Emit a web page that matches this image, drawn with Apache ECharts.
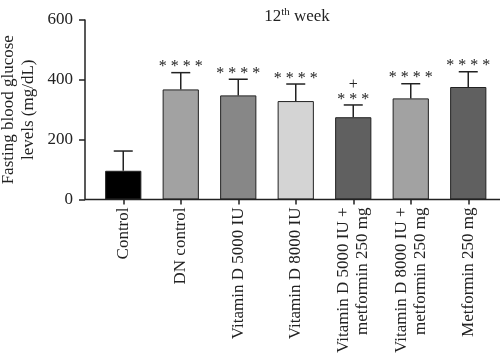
<!DOCTYPE html>
<html><head><meta charset="utf-8">
<script src="https://cdn.jsdelivr.net/npm/echarts@6/dist/echarts.min.js"></script>
<style>html,body{margin:0;padding:0;background:#fff}#c{width:500px;height:357px}</style>
</head><body><div id="c"></div>
<script>
const categories = ["Control","DN control","Vitamin D 5000 IU","Vitamin D 8000 IU","Vitamin D 5000 IU +\nmetformin 250 mg","Vitamin D 8000 IU +\nmetformin 250 mg","Metformin 250 mg"];
const means = [96, 368, 348, 329, 275, 338, 376];
const errorTops = [162, 424, 402, 386, 316, 387, 427];
const annotations = ["", "* * * *", "* * * *", "* * * *", "+\n* * *", "* * * *", "* * * *"];
const barColors = ["#000000","#a2a2a2","#878787","#d4d4d4","#606060","#a2a2a2","#606060"];
const yTicks = { min: 0, max: 600, interval: 200 };
const FONT = "Liberation Serif";

const chart = echarts.init(document.getElementById('c'), null, {renderer:'canvas'});
const option = {
  animation: false,
  textStyle: { fontFamily: FONT },
  title: {
    text: "12{sup|th} week",
    left: 292, top: 2, textAlign: 'center',
    textStyle: { fontFamily: FONT, fontSize: 17, fontWeight: 'normal', color: '#222',
      rich: { sup: { fontFamily: FONT, fontSize: 11, verticalAlign: 'top', padding: [0,0,8,0], color: '#222' } } }
  },
  grid: { left: 94.5, right: 3, top: 20, bottom: 157.5, containLabel: false, outerBoundsMode: 'none' },
  xAxis: {
    type: 'category', data: categories,
    axisLine: { show: false },
    axisTick: { show: true, alignWithLabel: true, length: 5, lineStyle: { color: '#222', width: 1.5 } },
    axisLabel: { rotate: 90, fontFamily: FONT, fontSize: 17, color: '#222', margin: 8, lineHeight: 19, interval: 0 }
  },
  yAxis: {
    type: 'value', min: yTicks.min, max: yTicks.max, interval: yTicks.interval,
    offset: 9.5,
    name: "Fasting blood glucose\nlevels (mg/dL)", nameLocation: 'middle', nameGap: 46, nameRotate: 90,
    nameMoveOverlap: false,
    nameTextStyle: { fontFamily: FONT, fontSize: 17, color: '#222', lineHeight: 20 },
    splitLine: { show: false },
    axisLine: { show: true, lineStyle: { color: '#222', width: 1.5 } },
    axisTick: { show: true, length: 6, lineStyle: { color: '#222', width: 1.5 } },
    axisLabel: { fontFamily: FONT, fontSize: 17, color: '#222', margin: 12 }
  },
  series: [
    {
      type: 'bar', barWidth: '63%',
      data: means.map((v, i) => ({ value: v, itemStyle: { color: barColors[i] } })),
      itemStyle: { borderColor: '#222', borderWidth: 1 }
    },
    {
      type: 'custom',
      data: means.map((m, i) => [i, m, errorTops[i]]),
      renderItem: function (params, api) {
        const i = api.value(0);
        const p0 = api.coord([i, api.value(1)]);
        const p1 = api.coord([i, api.value(2)]);
        const hw = 9.5;
        const txt = annotations[params.dataIndex];
        const children = [
          { type: 'line', shape: { x1: p0[0], y1: p0[1], x2: p1[0], y2: p1[1] }, style: { stroke: '#222', lineWidth: 1.5 } },
          { type: 'line', shape: { x1: p1[0] - hw, y1: p1[1], x2: p1[0] + hw, y2: p1[1] }, style: { stroke: '#222', lineWidth: 1.5 } }
        ];
        if (txt) {
          children.push({ type: 'text', style: { text: txt, x: p1[0], y: p1[1] + 2, align: 'center', verticalAlign: 'bottom',
            font: '16px "' + FONT + '"', fill: '#222', lineHeight: 15 } });
        }
        return { type: 'group', children: children };
      },
      z: 3
    }
  ]
};
chart.setOption(option);
const z0 = chart.convertToPixel({ yAxisIndex: 0 }, 0);
chart.setOption({ graphic: [{ type: 'line', shape: { x1: 85, y1: z0, x2: 500, y2: z0 }, style: { stroke: '#222', lineWidth: 1.5 }, z: 10 }] });
</script></body></html>
